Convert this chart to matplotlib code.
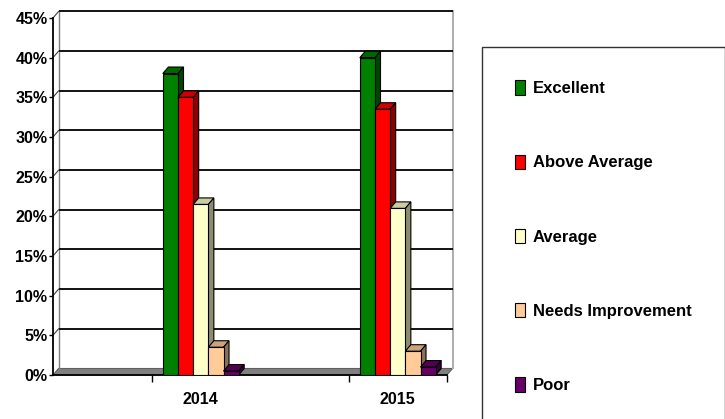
import matplotlib.pyplot as plt
import numpy as np
from matplotlib.patches import Polygon, Patch
from matplotlib.colors import to_rgb

plt.rcParams["font.family"] = ["Liberation Sans", "DejaVu Sans"]
plt.rcParams["font.weight"] = "bold"

years = ["2014", "2015"]
ratings = ["Excellent", "Above Average", "Average", "Needs Improvement", "Poor"]
excellent = [38.0, 40.0]
above_average = [35.0, 33.5]
average = [21.5, 21.0]
needs_improvement = [3.5, 3.0]
poor = [0.5, 1.0]
y_ticks = [0, 5, 10, 15, 20, 25, 30, 35, 40, 45]
y_labels = [f"{v}%" for v in y_ticks]

colors = ["#008000", "#FF0000", "#FFFFCC", "#FFCC99", "#660066"]
series = [excellent, above_average, average, needs_improvement, poor]

# fake 3-D: depth offset in data units, bar width
DX, DY = 0.028, 0.82
W = 0.077
XMIN, XMAX = -0.75, 1.25
YMAX = 45


def shade(c, f):
    return tuple(v * f for v in to_rgb(c))


fig = plt.figure(figsize=(7.25, 4.19), dpi=100)
ax = fig.add_axes([53 / 725, 44 / 419, 394 / 725, 357 / 419])
ax.set_xlim(XMIN, XMAX)
ax.set_ylim(0, YMAX)

# back wall, floor and gridlines
ax.add_patch(Polygon([(XMIN, 0), (XMAX, 0), (XMAX + DX, DY), (XMIN + DX, DY)],
                     closed=True, facecolor="#808080", edgecolor="#606060",
                     lw=0.8, zorder=1, clip_on=False))
for v in y_ticks[1:]:
    ax.plot([XMIN + DX, XMAX + DX], [v + DY, v + DY], color="black", lw=1.3,
            zorder=1.5, clip_on=False, solid_capstyle="butt")
    ax.plot([XMIN, XMIN + DX], [v, v + DY], color="#404040", lw=0.8,
            zorder=1.5, clip_on=False)
ax.plot([XMIN + DX, XMIN + DX], [DY, YMAX + DY], color="#808080", lw=1.0,
        zorder=1.4, clip_on=False)
ax.plot([XMAX + DX, XMAX + DX], [DY, YMAX + DY], color="#b0b0b0", lw=1.5,
        zorder=1.4, clip_on=False)

# bars: front face via ax.bar, top and side faces from the same rectangles
x = np.arange(len(years))
for k, (vals, col) in enumerate(zip(series, colors)):
    xs = x + (k - 2) * W
    bars = ax.bar(xs, vals, W, color=col, edgecolor="black", lw=0.8,
                  zorder=3 + k + 0.2)
    for b in bars:
        x0, w, h = b.get_x(), b.get_width(), b.get_height()
        top = [(x0, h), (x0 + w, h), (x0 + w + DX, h + DY), (x0 + DX, h + DY)]
        side = [(x0 + w, 0), (x0 + w + DX, DY), (x0 + w + DX, h + DY), (x0 + w, h)]
        ax.add_patch(Polygon(top, closed=True, facecolor=shade(col, 0.8),
                             edgecolor="black", lw=0.8, zorder=3 + k + 0.1,
                             clip_on=False))
        ax.add_patch(Polygon(side, closed=True, facecolor=shade(col, 0.55),
                             edgecolor="black", lw=0.8, zorder=3 + k + 0.1,
                             clip_on=False))

for s in ["top", "right"]:
    ax.spines[s].set_visible(False)
for s in ["left", "bottom"]:
    ax.spines[s].set_color("black")
    ax.spines[s].set_linewidth(1.3)
    ax.spines[s].set_zorder(2)

ax.set_yticks(y_ticks)
ax.set_yticklabels(y_labels, fontsize=11.5, fontweight="bold")
ax.tick_params(axis="y", length=3, width=1, pad=1)

ax.set_xticks([-0.25, 0.75, 1.25])
ax.set_xticklabels([])
ax.tick_params(axis="x", which="major", length=5, width=1)
ax.set_xticks(x, minor=True)
ax.set_xticklabels(years, minor=True, fontsize=11.5, fontweight="bold")
ax.tick_params(axis="x", which="minor", length=0, pad=12)

handles = [Patch(facecolor=c, edgecolor="black", lw=0.8) for c in colors]
leg = fig.legend(handles, ratings, loc="upper left",
                 bbox_to_anchor=(482 / 725, 1 - 47 / 419),
                 prop={"size": 12, "weight": "bold"},
                 frameon=True, fancybox=False, edgecolor="black",
                 borderpad=2.0, labelspacing=3.5, handlelength=0.6,
                 handleheight=0.95, handletextpad=0.45, borderaxespad=0)
leg.get_frame().set_linewidth(1.0)

fig.savefig("out.png", dpi=100)
